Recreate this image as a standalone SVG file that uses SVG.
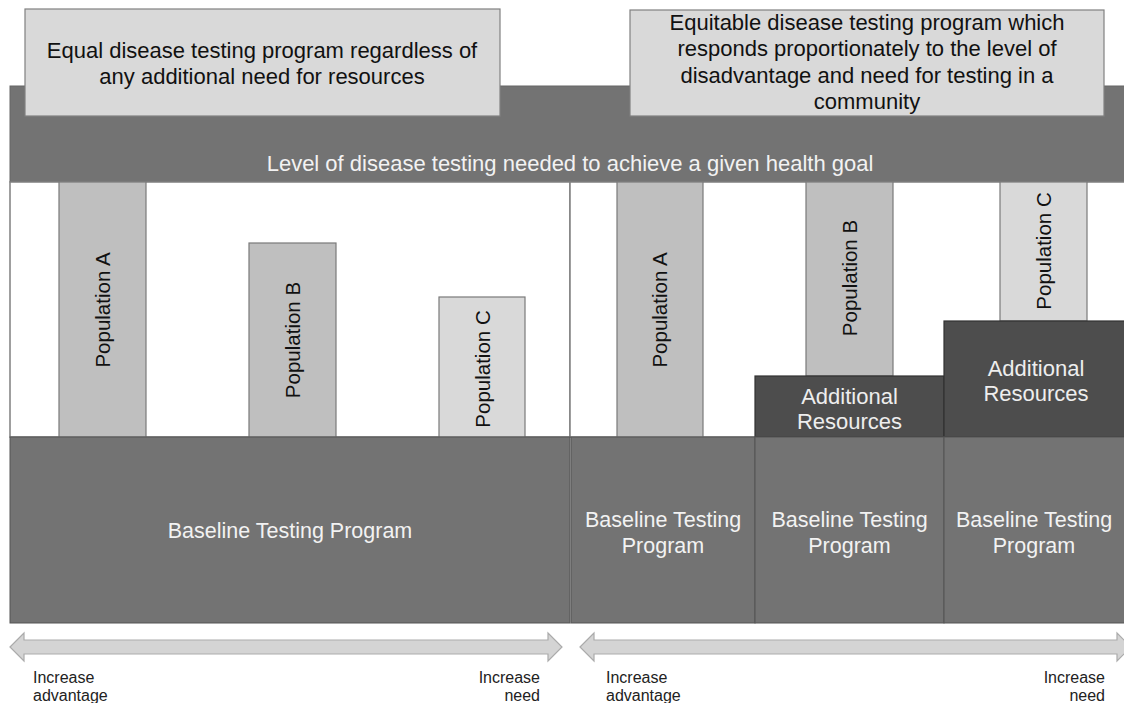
<svg xmlns="http://www.w3.org/2000/svg" width="1124" height="703" viewBox="0 0 1124 703">
  <style>
    text { font-family: "Liberation Sans", Arial, sans-serif; }
    .title { fill: #d9d9d9; stroke: #808080; stroke-width: 1.2; }
    .title-t { font-size: 22px; fill: #111; text-anchor: middle; }
    .band { fill: #737373; stroke: #666; stroke-width: 1; }
    .band-t { font-size: 22px; fill: #f2f2f2; text-anchor: middle; }
    .panel { fill: #ffffff; stroke: #808080; stroke-width: 1.5; }
    .popAB { fill: #bfbfbf; stroke: #7a7a7a; stroke-width: 1.2; }
    .popC { fill: #d9d9d9; stroke: #7a7a7a; stroke-width: 1.2; }
    .pop-t { font-size: 20.5px; fill: #111; text-anchor: middle; }
    .base { fill: #737373; stroke: #555; stroke-width: 1; }
    .base-t { font-size: 21.5px; fill: #f2f2f2; text-anchor: middle; }
    .add { fill: #4d4d4d; stroke: #333; stroke-width: 1.2; }
    .add-t { font-size: 22px; fill: #eeeeee; text-anchor: middle; }
    .arrow { fill: #d4d4d4; stroke: #ababab; stroke-width: 1.2; }
    .lbl { font-size: 16px; fill: #222; }
  </style>

  <g id="level-band">
    <rect class="band" x="10" y="86" width="1118" height="96"/>
    <text class="band-t" x="570" y="171">Level of disease testing needed to achieve a given health goal</text>
  </g>

  <g id="equal-title">
    <rect class="title" x="25" y="9" width="475" height="107"/>
    <text class="title-t" x="262" y="58">Equal disease testing program regardless of</text>
    <text class="title-t" x="262" y="84">any additional need for resources</text>
  </g>

  <g id="equitable-title">
    <rect class="title" x="630" y="10" width="474" height="106"/>
    <text class="title-t" x="867" y="30">Equitable disease testing program which</text>
    <text class="title-t" x="867" y="56">responds proportionately to the level of</text>
    <text class="title-t" x="867" y="83">disadvantage and need for testing in a</text>
    <text class="title-t" x="867" y="109">community</text>
  </g>

  <g id="equal-panel">
    <rect class="panel" x="10" y="182" width="560" height="255"/>
  </g>
  <g id="equitable-panel">
    <rect class="panel" x="570" y="182" width="560" height="255"/>
  </g>

  <g id="equal-pop-a">
    <rect class="popAB" x="59" y="182" width="87" height="255"/>
    <text class="pop-t" transform="translate(110,310) rotate(-90)">Population A</text>
  </g>
  <g id="equal-pop-b">
    <rect class="popAB" x="249" y="243" width="87" height="194"/>
    <text class="pop-t" transform="translate(300,340) rotate(-90)">Population B</text>
  </g>
  <g id="equal-pop-c">
    <rect class="popC" x="439" y="297" width="86" height="140"/>
    <text class="pop-t" transform="translate(489.5,369) rotate(-90)">Population C</text>
  </g>

  <g id="equitable-pop-a">
    <rect class="popAB" x="617" y="182" width="86" height="255"/>
    <text class="pop-t" transform="translate(667,310) rotate(-90)">Population A</text>
  </g>
  <g id="equitable-pop-b">
    <rect class="popAB" x="806" y="182" width="87" height="194"/>
    <text class="pop-t" transform="translate(857,278) rotate(-90)">Population B</text>
  </g>
  <g id="equitable-pop-c">
    <rect class="popC" x="1000" y="182" width="87" height="139"/>
    <text class="pop-t" transform="translate(1051,251) rotate(-90)">Population C</text>
  </g>

  <g id="additional-b">
    <rect class="add" x="755" y="376" width="189" height="61"/>
    <text class="add-t" x="849.5" y="404">Additional</text>
    <text class="add-t" x="849.5" y="429">Resources</text>
  </g>
  <g id="additional-c">
    <rect class="add" x="944" y="321" width="184" height="116"/>
    <text class="add-t" x="1036" y="376">Additional</text>
    <text class="add-t" x="1036" y="401">Resources</text>
  </g>

  <g id="equal-baseline">
    <rect class="base" x="10" y="437" width="560" height="186"/>
    <text class="base-t" x="290" y="538">Baseline Testing Program</text>
  </g>
  <g id="equitable-baseline-a">
    <rect class="base" x="571" y="437" width="184" height="186"/>
    <text class="base-t" x="663" y="527">Baseline Testing</text>
    <text class="base-t" x="663" y="553">Program</text>
  </g>
  <g id="equitable-baseline-b">
    <rect class="base" x="755" y="437" width="189" height="186"/>
    <text class="base-t" x="849.5" y="527">Baseline Testing</text>
    <text class="base-t" x="849.5" y="553">Program</text>
  </g>
  <g id="equitable-baseline-c">
    <rect class="base" x="944" y="437" width="184" height="186"/>
    <text class="base-t" x="1034" y="527">Baseline Testing</text>
    <text class="base-t" x="1034" y="553">Program</text>
  </g>

  <g id="connectors">
    <polygon class="arrow" points="10,647 24,633 24,640 548,640 548,633 562,647 548,661 548,654 24,654 24,661"/>
    <polygon class="arrow" points="580,647 594,633 594,640 1117,640 1117,633 1131,647 1117,661 1117,654 594,654 594,661"/>
  </g>

  <g id="axis-labels">
    <text class="lbl" x="33" y="683">Increase</text>
    <text class="lbl" x="33" y="701">advantage</text>
    <text class="lbl" x="540" y="683" text-anchor="end">Increase</text>
    <text class="lbl" x="540" y="701" text-anchor="end">need</text>
    <text class="lbl" x="606" y="683">Increase</text>
    <text class="lbl" x="606" y="701">advantage</text>
    <text class="lbl" x="1105" y="683" text-anchor="end">Increase</text>
    <text class="lbl" x="1105" y="701" text-anchor="end">need</text>
  </g>
</svg>
